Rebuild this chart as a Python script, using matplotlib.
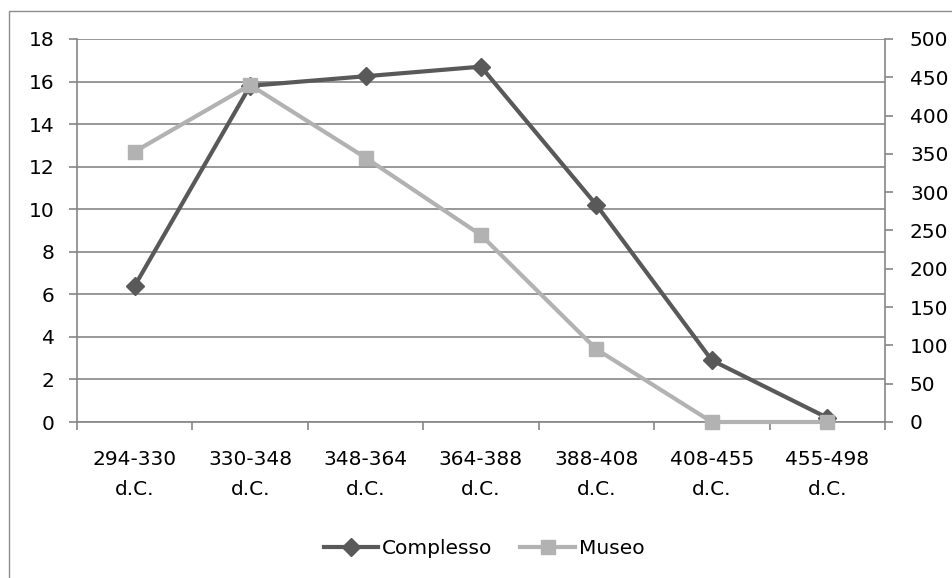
import matplotlib
matplotlib.use("Agg")
import matplotlib.pyplot as plt
from matplotlib.patches import Rectangle

categories = ["294-330\nd.C.", "330-348\nd.C.", "348-364\nd.C.", "364-388\nd.C.",
              "388-408\nd.C.", "408-455\nd.C.", "455-498\nd.C."]
complesso = [6.4, 15.8, 16.25, 16.7, 10.2, 2.9, 0.2]
museo = [353, 440, 345, 244, 95, 0, 0]
left_ticks = [0, 2, 4, 6, 8, 10, 12, 14, 16, 18]
right_ticks = [0, 50, 100, 150, 200, 250, 300, 350, 400, 450, 500]

plt.rcParams['font.family'] = ['DejaVu Sans']
FS = 14.5
GRID = '#868686'

fig = plt.figure(figsize=(9.52, 5.78), dpi=100)
fig.patches.append(Rectangle((9/952, -0.5), 2, (578-11)/578 + 0.5, transform=fig.transFigure,
                             fill=False, edgecolor='#8c8c8c', linewidth=1.0, zorder=0))

ax = fig.add_axes([77/952, (578-422)/578, (885-77)/952, (422-39)/578])
x = list(range(len(categories)))
ax.set_xlim(-0.5, len(categories) - 0.5)
ax.set_ylim(0, 18)
ax.set_yticks(left_ticks)
ax.yaxis.grid(True, color=GRID, linewidth=1.2)
ax.set_axisbelow(True)
for s in ['top', 'right']:
    ax.spines[s].set_visible(False)
for s in ['left', 'bottom']:
    ax.spines[s].set_color(GRID)
    ax.spines[s].set_linewidth(1.2)
ax.tick_params(axis='y', length=6, color=GRID, width=1.2, pad=10, labelsize=FS)
ax.set_xticks(x)
ax.set_xticklabels(categories, fontsize=FS, linespacing=1.75)
ax.set_xticks([i - 0.5 for i in range(len(categories) + 1)], minor=True)
ax.tick_params(axis='x', which='major', length=0, pad=20)
ax.tick_params(axis='x', which='minor', length=6, color=GRID, width=1.2)

l1, = ax.plot(x, complesso, color='#595959', linewidth=3, marker='D', markersize=9,
              label='Complesso', zorder=3, clip_on=False)

ax2 = ax.twinx()
ax2.set_ylim(0, 500)
ax2.set_yticks(right_ticks)
for s in ['top', 'left', 'bottom']:
    ax2.spines[s].set_visible(False)
ax2.spines['right'].set_color(GRID)
ax2.spines['right'].set_linewidth(1.2)
ax2.tick_params(axis='y', length=6, color=GRID, width=1.2, pad=12, labelsize=FS)
l2, = ax2.plot(x, museo, color='#b2b2b2', linewidth=3, marker='s', markersize=10,
               label='Museo', zorder=3, clip_on=False)

fig.legend(handles=[l1, l2], loc='center', bbox_to_anchor=(484/952, (578-549)/578),
           ncol=2, frameon=False, fontsize=FS, handlelength=2.7, handletextpad=0.2,
           columnspacing=1.4)

fig.savefig('out.png', dpi=100)
